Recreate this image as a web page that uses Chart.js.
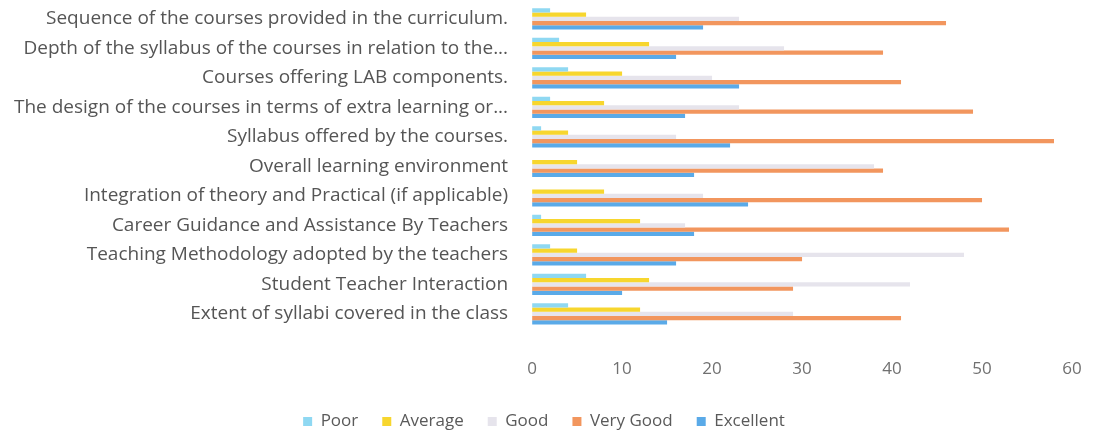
<!DOCTYPE html>
<html>
<head>
<meta charset="utf-8">
<script src="https://cdn.jsdelivr.net/npm/chart.js@4/dist/chart.umd.min.js"></script>
<style>
    body { margin: 0; background: #fff; }
    .res { width: 1098px; height: 432px; }
</style>
</head>
<body>
<div class="res"><canvas id="chart"></canvas></div>
<script>
const categories = [
    'Sequence of the courses provided in the curriculum.',
    'Depth of the syllabus of the courses in relation to the...',
    'Courses offering LAB components.',
    'The design of the courses in terms of extra learning or...',
    'Syllabus offered by the courses.',
    'Overall learning environment',
    'Integration of theory and Practical (if applicable)',
    'Career Guidance and Assistance By Teachers',
    'Teaching Methodology adopted by the teachers',
    'Student Teacher Interaction',
    'Extent of syllabi covered in the class'
];
const poor = [2, 3, 4, 2, 1, 0, 0, 1, 2, 6, 4];
const average = [6, 13, 10, 8, 4, 5, 8, 12, 5, 13, 12];
const good = [23, 28, 20, 23, 16, 38, 19, 17, 48, 42, 29];
const veryGood = [46, 39, 41, 49, 58, 39, 50, 53, 30, 29, 41];
const excellent = [19, 16, 23, 17, 22, 18, 24, 18, 16, 10, 15];
const xTicks = [0, 10, 20, 30, 40, 50, 60];

const data = {
    labels: categories,
    datasets: [
        { label: 'Poor', data: poor, backgroundColor: '#8fd8f2' },
        { label: 'Average', data: average, backgroundColor: '#f7d62e' },
        { label: 'Good', data: good, backgroundColor: '#e6e4ec' },
        { label: 'Very Good', data: veryGood, backgroundColor: '#f2965e' },
        { label: 'Excellent', data: excellent, backgroundColor: '#5aaae8' }
    ]
};

const config = {
    type: 'bar',
    data: data,
    options: {
        indexAxis: 'y',
        responsive: true,
        maintainAspectRatio: false,
        animation: false,
        layout: { padding: { left: -10, right: 0, top: 0, bottom: -8 } },
        datasets: {
            bar: { categoryPercentage: 0.72, barPercentage: 1 }
        },
        scales: {
            x: {
                min: 0,
                max: 60,
                afterBuildTicks: (axis) => { axis.ticks = xTicks.map(v => ({ value: v })); },
                afterFit: (axis) => { axis.paddingRight = 26; axis.height -= 20; },
                grid: { display: false, drawTicks: false },
                border: { display: false },
                ticks: { color: '#707070', padding: 30, font: { family: 'Open Sans', size: 17 } }
            },
            y: {
                afterFit: (axis) => { axis.paddingTop = 4; axis.paddingBottom = 0; },
                grid: { display: false, drawTicks: false },
                border: { display: false },
                ticks: { color: '#555555', padding: 24, font: { family: 'Open Sans', size: 19 } }
            }
        },
        plugins: {
            legend: {
                position: 'bottom',
                labels: {
                    boxWidth: 9,
                    boxHeight: 9,
                    padding: 24,
                    color: '#5a5a5a',
                    font: { family: 'Open Sans', size: 17 }
                }
            },
            tooltip: { enabled: false }
        }
    }
};

new Chart(document.getElementById('chart'), config);
</script>
</body>
</html>
